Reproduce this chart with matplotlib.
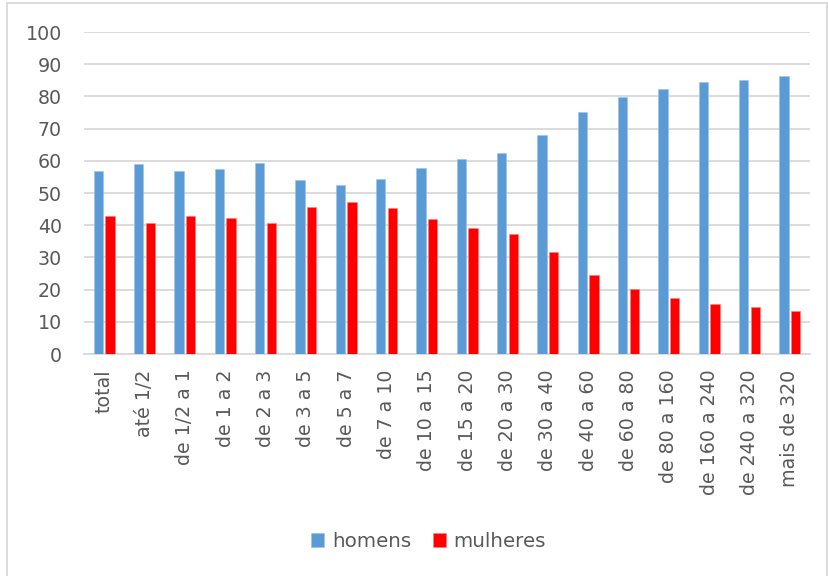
import numpy as np
import matplotlib
matplotlib.use("Agg")
import matplotlib.pyplot as plt
from matplotlib.patches import Rectangle

categories = ["total", "até 1/2", "de 1/2 a 1", "de 1 a 2", "de 2 a 3", "de 3 a 5",
              "de 5 a 7", "de 7 a 10", "de 10 a 15", "de 15 a 20", "de 20 a 30",
              "de 30 a 40", "de 40 a 60", "de 60 a 80", "de 80 a 160",
              "de 160 a 240", "de 240 a 320", "mais de 320"]
homens = [56.9, 58.9, 56.8, 57.6, 59.2, 54.1, 52.6, 54.5, 57.9, 60.5, 62.4,
          68.0, 75.2, 79.7, 82.3, 84.4, 85.1, 86.3]
mulheres = [42.9, 40.8, 43.0, 42.1, 40.6, 45.7, 47.2, 45.3, 41.9, 39.2, 37.4,
            31.7, 24.5, 20.1, 17.4, 15.4, 14.7, 13.5]

text_col = "#595959"
grid_col = "#D9D9D9"
fs = 13.7

fig = plt.figure(figsize=(8.29, 5.76), dpi=100)
ax = fig.add_axes([0.1013, 0.3854, 0.8757, 0.559])

x = np.arange(len(categories))
w = 0.23
ax.bar(x - 0.146, homens, w, color="#5B9BD5", label="homens", zorder=3,
       edgecolor="#9DC3E6", linewidth=0.4)
ax.bar(x + 0.146, mulheres, w, color="#FF0000", label="mulheres", zorder=3,
       edgecolor="#FF7F7F", linewidth=0.4)

ax.set_xlim(-0.5, len(categories) - 0.5)
ax.set_ylim(0, 100)
ax.set_yticks(range(0, 101, 10))
ax.yaxis.grid(True, color=grid_col, linewidth=1.3)
ax.set_axisbelow(True)
for side in ["top", "right", "left"]:
    ax.spines[side].set_visible(False)
ax.spines["bottom"].set_color(grid_col)
ax.spines["bottom"].set_linewidth(1.3)

ax.set_xticks(x)
ax.set_xticklabels(categories, rotation=90, fontsize=fs, color=text_col)
ax.tick_params(axis="x", length=0, pad=11)
ax.tick_params(axis="y", length=0, pad=16, labelsize=fs, labelcolor=text_col)

leg = fig.legend(loc="center", bbox_to_anchor=(0.517, 0.06), ncol=2, frameon=False,
                 fontsize=14.3, handlelength=0.65, handleheight=0.75,
                 handletextpad=0.4, columnspacing=1.1)
for t in leg.get_texts():
    t.set_color(text_col)

# light frame around the whole chart
fig.patches.append(Rectangle((0.009, -0.01), 0.988, 1.005, transform=fig.transFigure,
                             fill=False, edgecolor=grid_col, linewidth=1.3))

fig.savefig("out.png", dpi=100)
